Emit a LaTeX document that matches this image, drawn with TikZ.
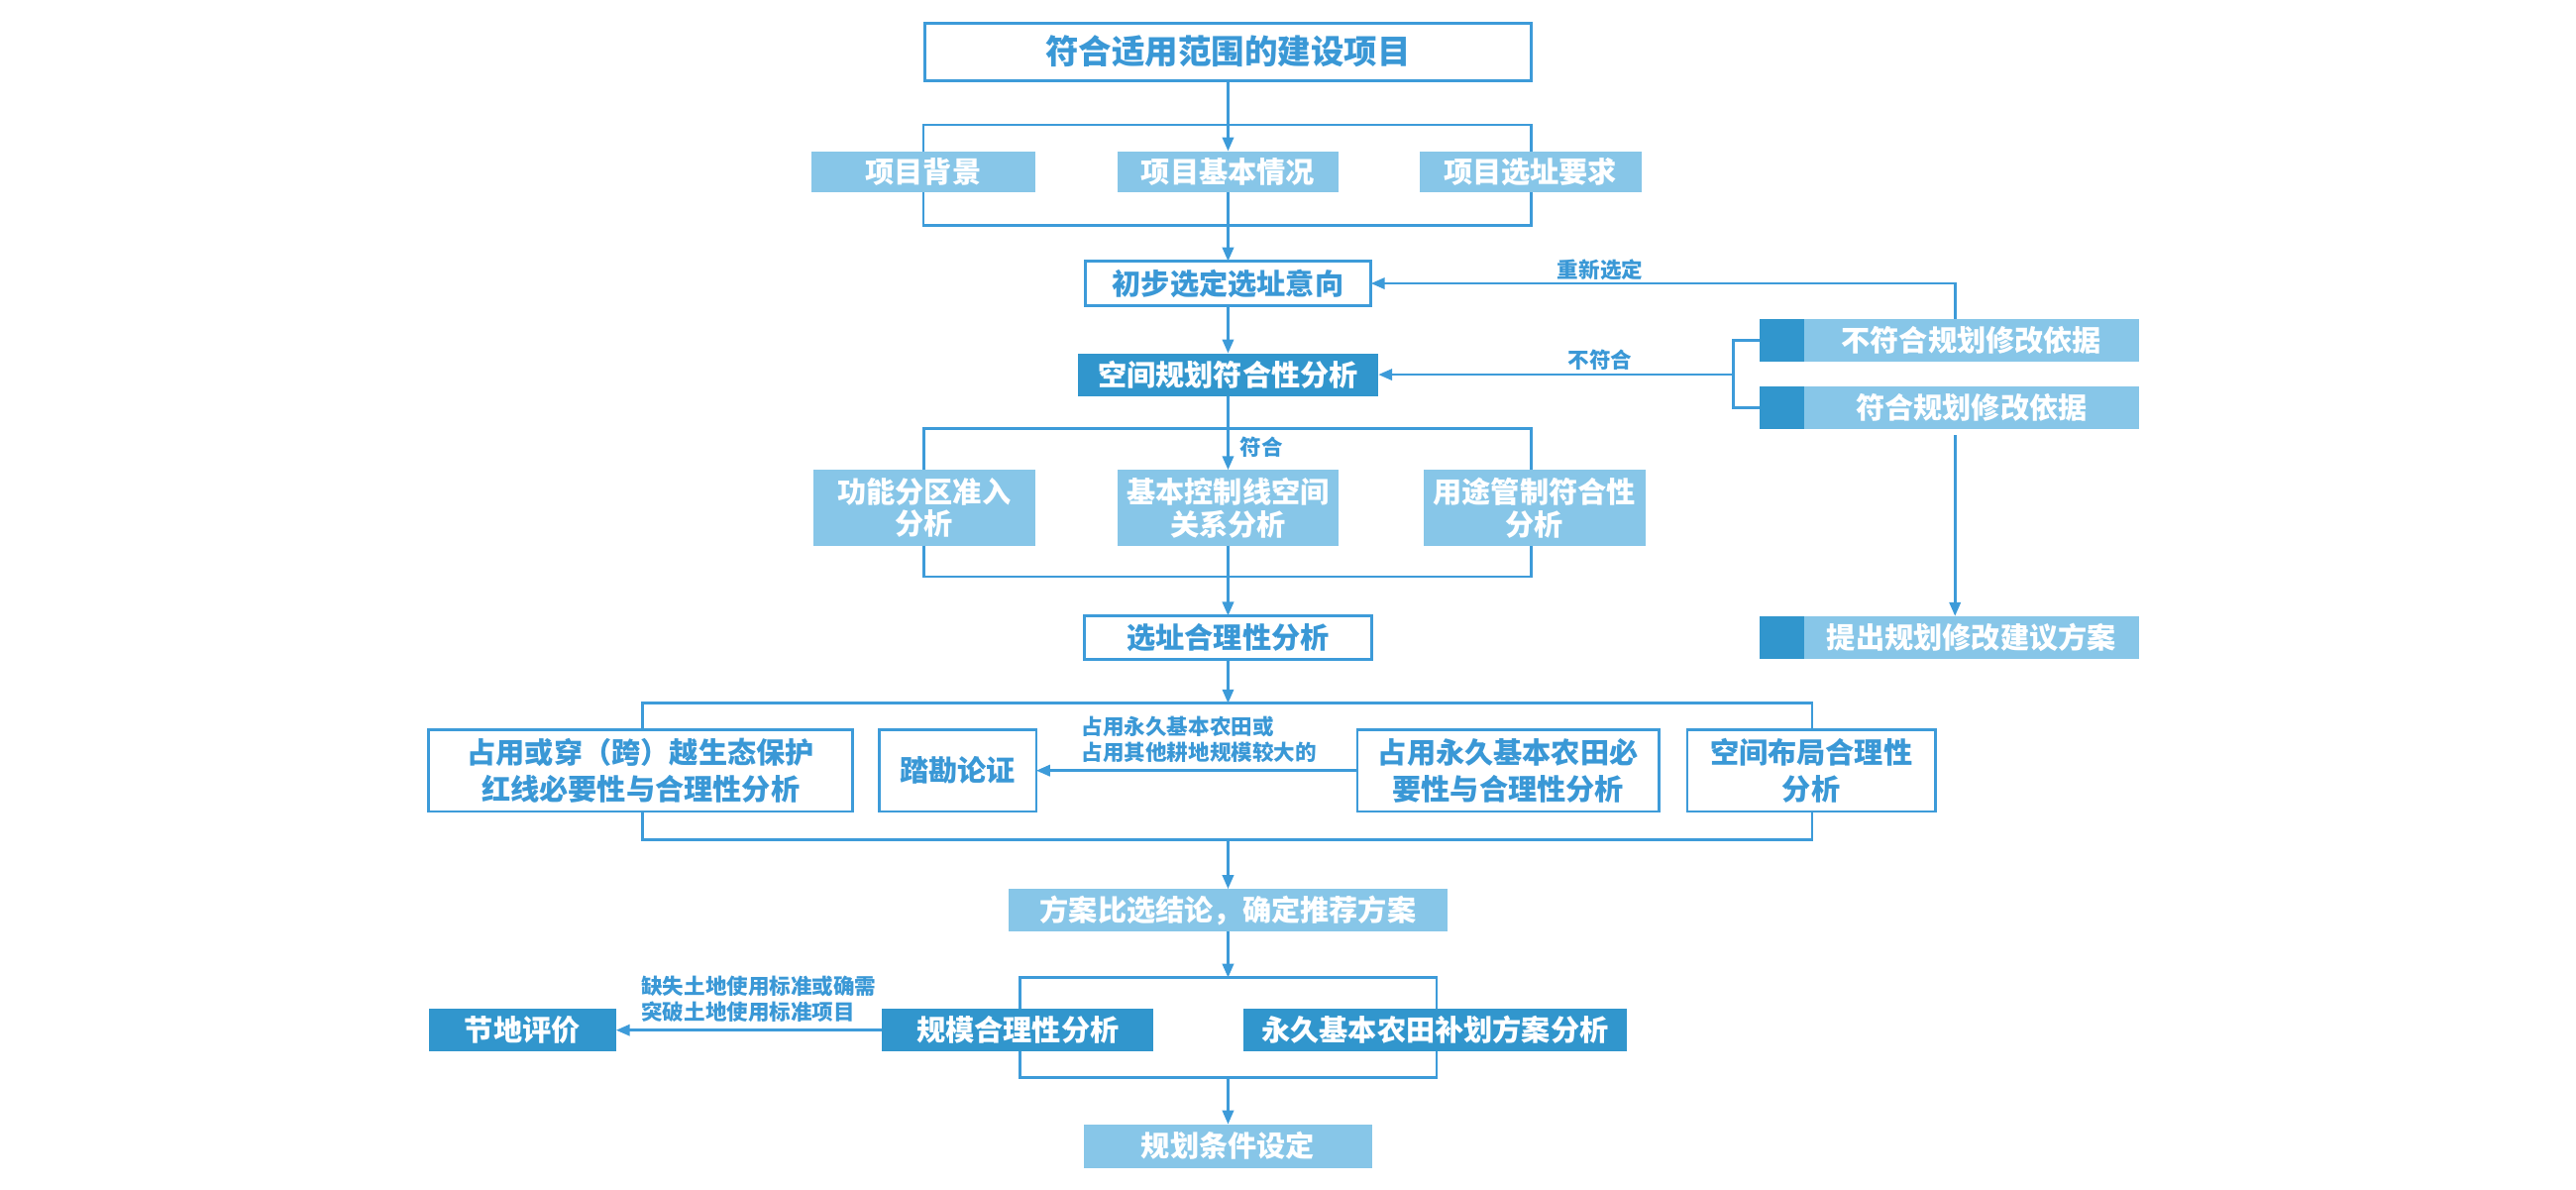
\documentclass[tikz,border=0pt]{standalone}
\usepackage{fontspec}
\setmainfont{Noto Sans CJK SC}
\usetikzlibrary{arrows.meta}
\definecolor{lineblue}{HTML}{3D9BD9}
\definecolor{txtblue}{HTML}{3A98D6}
\definecolor{lightfill}{HTML}{87C6E8}
\definecolor{darkfill}{HTML}{3196CD}
\tikzset{
  base/.style={inner sep=0pt, outer sep=0pt, align=center, font=\bfseries\fontsize{8.8}{9.9}\selectfont},
  whitebox/.style={base, draw=lineblue, line width=0.8pt, fill=white, text=txtblue},
  lightbox/.style={base, fill=lightfill, text=white},
  darkbox/.style={base, fill=darkfill, text=white},
  conn/.style={draw=lineblue, line width=0.8pt},
  arr/.style={conn, -{Triangle[length=4.2pt,width=3.4pt]}},
  lbl/.style={inner sep=0pt, text=txtblue, font=\bfseries\fontsize{6.5}{8}\selectfont, align=left},
}
\begin{document}
\begin{tikzpicture}[x=0.5pt,y=-0.5pt]
\useasboundingbox (0,0) rectangle (1568,724);
% top
\node[whitebox, minimum width=184.5pt, minimum height=17.5pt, font=\bfseries\fontsize{10.1}{12}\selectfont] (top) at (747.5,31.5) {符合适用范围的建设项目};
% row 2
\node[lightbox, minimum width=68pt, minimum height=12.5pt] (bg) at (562,104.5) {项目背景};
\node[lightbox, minimum width=67.5pt, minimum height=12.5pt] (jb) at (747.5,104.5) {项目基本情况};
\node[lightbox, minimum width=67.5pt, minimum height=12.5pt] (xz) at (931.5,104.5) {项目选址要求};
\coordinate (aR) at (932,76);
\coordinate (bR) at (932,137);
\draw[conn] (bg.north) |- (aR) -- (aR |- xz.north);
\draw[conn] (bg.south) |- (bR) -- (bR |- xz.south);
\draw[arr] (top.south) -- (jb.north);
% row 3
\node[whitebox, minimum width=87pt, minimum height=13.5pt] (cb) at (747.5,172.5) {初步选定选址意向};
\node[darkbox, minimum width=91.5pt, minimum height=13pt] (kj) at (747.5,228) {空间规划符合性分析};
\draw[arr] (jb.south) -- (cb.north);
\draw[arr] (cb.south) -- (kj.north);
% right side
\node[lightbox, minimum width=102pt, minimum height=13pt] (bf) at (1200,207) {不符合规划修改依据};
\node[darkbox, minimum width=13.5pt, minimum height=13pt, anchor=east] (bfsq) at (bf.west) {};
\node[lightbox, minimum width=102pt, minimum height=13pt] (fh) at (1200,248) {符合规划修改依据};
\node[darkbox, minimum width=13.5pt, minimum height=13pt, anchor=east] (fhsq) at (fh.west) {};
\node[lightbox, minimum width=102pt, minimum height=13pt] (tc) at (1200,388) {提出规划修改建议方案};
\node[darkbox, minimum width=13.5pt, minimum height=13pt, anchor=east] (tcsq) at (tc.west) {};
\coordinate (rx) at (1190,0);
\coordinate (bx) at (1055,228);
\draw[arr] (rx |- bf.north) |- (cb.east);
\node[lbl] (l1) at (974,164) {重新选定};
\draw[conn] (bfsq.west) -| (bx) |- (fhsq.west);
\draw[arr] (bx) -- (kj.east);
\node[lbl] (l2) at (974,219) {不符合};
\draw[arr, shorten <=2pt] (rx |- fh.south) -- (rx |- tc.north);
% row 4
\node[lightbox, minimum width=67.5pt, minimum height=23pt] (gn) at (562.5,309) {功能分区准入\\分析};
\node[lightbox, minimum width=67.5pt, minimum height=23pt] (jk) at (747.5,309) {基本控制线空间\\关系分析};
\node[lightbox, minimum width=67.5pt, minimum height=23pt] (yt) at (934,309) {用途管制符合性\\分析};
\coordinate (cR) at (932,261);
\coordinate (dR) at (932,351);
\draw[conn] (gn.north) |- (cR) -- (cR |- yt.north);
\draw[conn] (gn.south) |- (dR) -- (dR |- yt.south);
\draw[arr] (kj.south) -- (jk.north);
\node[lbl] (l3) at (768,272) {符合};
% row 5
\node[whitebox, minimum width=87.5pt, minimum height=13.25pt] (xh) at (747.5,388) {选址合理性分析};
\draw[arr] (jk.south) -- (xh.north);
% row 6
\tikzset{tall/.style={font=\bfseries\fontsize{8.8}{11.2}\selectfont, minimum height=25pt}}
\node[whitebox, tall, minimum width=129pt] (st) at (390,469) {占用或穿（跨）越生态保护\\红线必要性与合理性分析};
\node[whitebox, tall, minimum width=47.75pt] (tk) at (583,469) {踏勘论证};
\node[whitebox, tall, minimum width=91.75pt] (jbnt) at (918,469) {占用永久基本农田必\\要性与合理性分析};
\node[whitebox, tall, minimum width=75.5pt] (bj) at (1102.5,469) {空间布局合理性\\分析};
\coordinate (eT) at (747.5,428);
\coordinate (eL) at (391,428);
\coordinate (eR) at (1103,428);
\coordinate (eB) at (747.5,511);
\coordinate (eBL) at (391,511);
\coordinate (eBR) at (1103,511);
\draw[arr] (xh.south) -- (eT);
\draw[conn] (eL |- st.north) -- (eL) -- (eR) -- (eR |- bj.north);
\draw[conn] (eL |- st.south) -- (eBL) -- (eBR) -- (eR |- bj.south);
\draw[arr] (jbnt.west) -- (tk.east);
\node[lbl, anchor=west] (l4) at (658,450) {占用永久基本农田或\\占用其他耕地规模较大的};
% row 7
\node[lightbox, minimum width=133.5pt, minimum height=13pt] (fa) at (747.5,554) {方案比选结论，确定推荐方案};
\draw[arr] (eB) -- (fa.north);
\node[darkbox, minimum width=82.5pt, minimum height=13pt] (gm) at (619.5,627) {规模合理性分析};
\node[darkbox, minimum width=116.5pt, minimum height=13pt] (bh) at (873.5,627) {永久基本农田补划方案分析};
\node[darkbox, minimum width=57pt, minimum height=13pt] (jd) at (318,627) {节地评价};
\coordinate (fT) at (747.5,595);
\coordinate (fL) at (621,595);
\coordinate (fR) at (874.5,595);
\coordinate (gB) at (747.5,656);
\coordinate (gL) at (621,656);
\coordinate (gR) at (874.5,656);
\draw[arr] (fa.south) -- (fT);
\draw[conn] (fL |- gm.north) -- (fL) -- (fR) -- (fR |- bh.north);
\draw[conn] (fL |- gm.south) -- (gL) -- (gR) -- (fR |- bh.south);
\draw[arr] (gm.west) -- (jd.east);
\node[lbl, anchor=west] (l5) at (390,608) {缺失土地使用标准或确需\\突破土地使用标准项目};
\node[lightbox, minimum width=88pt, minimum height=13.25pt] (gh) at (747.5,697.5) {规划条件设定};
\draw[arr] (gB) -- (gh.north);
\end{tikzpicture}
\end{document}
